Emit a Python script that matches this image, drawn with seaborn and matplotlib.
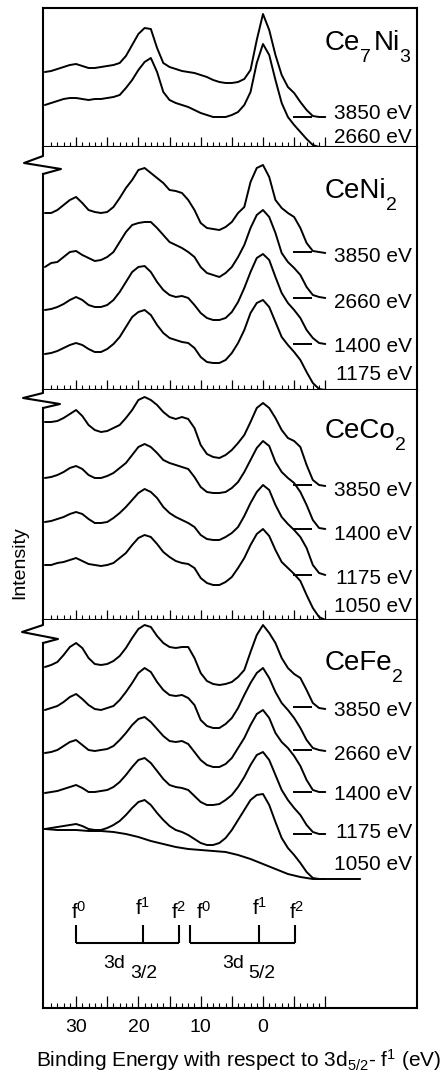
import matplotlib
matplotlib.use("Agg")
import seaborn as sns
from matplotlib import pyplot as plt
from matplotlib import transforms
from matplotlib.lines import Line2D

sns.set_style("ticks")
plt.rcParams["font.family"] = ["Liberation Sans", "DejaVu Sans"]
plt.rcParams["mathtext.fontset"] = "custom"
plt.rcParams["mathtext.rm"] = "Liberation Sans"
plt.rcParams["mathtext.it"] = "Liberation Sans"
plt.rcParams["mathtext.bf"] = "Liberation Sans:bold"
plt.rcParams["text.color"] = "black"
plt.rcParams["xtick.color"] = "black"
plt.rcParams["axes.labelcolor"] = "black"

# binding energy (eV) relative to 3d5/2 - f1, shared by every spectrum
energy = [35, 34, 33, 32, 31, 30, 29, 28, 27, 26, 25, 24, 23, 22, 21, 20,
          19, 18, 17, 16, 15, 14, 13, 12, 11, 10, 9, 8, 7, 6, 5, 4, 3, 2, 1,
          0, -1, -2, -3, -4, -5, -6, -7, -8, -9, -10]

# intensities (arb. units, offset per spectrum)
ce7ni3_3850 = [75, 76, 78, 80, 82, 83, 81, 79, 79, 80, 81,
               82, 84, 91, 102, 113, 119, 118, 99, 84, 80,
               78, 76, 75, 74, 72, 70, 67, 65, 64, 64,
               65, 68, 77, 107, 133, 117, 92, 72, 60, 54,
               45, 37, 31, 30, 30]
ce7ni3_2660 = [42, 44, 46, 48, 49, 49, 48, 47, 48, 48, 49,
               50, 52, 59, 67, 77, 85, 89, 75, 55, 47,
               44, 42, 40, 37, 34, 32, 30, 30, 30, 32,
               35, 42, 55, 84, 103, 92, 67, 44, 30, 22,
               15, 8, 2, 0, 0]

ceni2_3850 = [177, 177, 180, 185, 190, 193, 187, 180, 178, 177, 178,
              183, 192, 202, 210, 220, 222, 217, 212, 207, 200,
              199, 197, 190, 180, 167, 162, 161, 160, 163, 168,
              177, 183, 208, 222, 225, 213, 190, 182, 177, 173,
              162, 147, 139, 138, 137]
ceni2_2660 = [123, 127, 128, 133, 138, 139, 135, 132, 129, 130, 133,
              138, 148, 158, 165, 167, 168, 168, 162, 155, 148,
              145, 142, 138, 133, 123, 117, 115, 113, 117, 123,
              133, 145, 162, 175, 180, 173, 157, 137, 128, 122,
              115, 103, 95, 93, 92]
ceni2_1400 = [80, 81, 83, 86, 90, 93, 90, 85, 83, 83, 85,
              90, 98, 108, 118, 123, 124, 118, 108, 100, 95,
              93, 94, 92, 85, 77, 72, 70, 70, 72, 78,
              88, 102, 118, 132, 136, 130, 113, 97, 87, 80,
              72, 60, 52, 47, 46]
ceni2_1175 = [36, 37, 39, 42, 45, 47, 45, 41, 38, 38, 41,
              46, 53, 63, 73, 78, 80, 75, 65, 57, 52,
              50, 48, 47, 42, 33, 28, 27, 27, 30, 37,
              47, 60, 77, 87, 90, 83, 68, 53, 45, 38,
              30, 18, 7, 1, 0]

ceco2_3850 = [198, 198, 199, 202, 206, 210, 204, 195, 190, 188, 189,
              192, 195, 202, 210, 220, 223, 220, 215, 208, 203,
              201, 203, 201, 192, 175, 166, 163, 162, 165, 170,
              177, 185, 198, 212, 217, 212, 202, 190, 182, 179,
              173, 155, 140, 135, 134]
ceco2_1400 = [142, 143, 145, 148, 152, 154, 151, 145, 142, 142, 144,
              147, 152, 157, 165, 173, 176, 173, 167, 160, 157,
              155, 153, 151, 143, 133, 128, 127, 127, 128, 132,
              138, 148, 160, 172, 179, 174, 158, 148, 142, 137,
              128, 115, 100, 92, 91]
ceco2_1175 = [98, 99, 101, 103, 106, 108, 106, 101, 97, 97, 98,
              102, 107, 113, 120, 127, 131, 128, 122, 113, 107,
              103, 100, 97, 93, 85, 81, 80, 80, 83, 87,
              93, 104, 117, 128, 135, 130, 115, 103, 96, 90,
              83, 72, 55, 47, 45]
ceco2_1050 = [55, 55, 57, 58, 60, 62, 59, 56, 55, 54, 55,
              57, 62, 67, 75, 82, 85, 83, 76, 68, 63,
              59, 57, 56, 52, 42, 37, 35, 35, 38, 43,
              52, 62, 75, 86, 91, 84, 70, 58, 52, 46,
              39, 25, 12, 3, 0]

cefe2_3850 = [341, 343, 346, 353, 361, 365, 360, 350, 344, 343, 344,
              347, 352, 360, 370, 379, 383, 381, 372, 365, 361,
              360, 361, 361, 350, 335, 327, 324, 323, 324, 326,
              331, 338, 356, 373, 383, 375, 365, 350, 340, 334,
              330, 318, 305, 300, 299]
cefe2_2660 = [298, 300, 302, 306, 311, 314, 309, 303, 299, 298, 300,
              302, 308, 316, 325, 335, 340, 336, 326, 318, 313,
              312, 313, 310, 303, 288, 282, 280, 280, 284, 290,
              300, 313, 325, 335, 340, 330, 316, 305, 298, 290,
              280, 268, 260, 258, 257]
cefe2_1400 = [255, 256, 258, 262, 266, 268, 263, 258, 257, 258, 259,
              262, 268, 275, 283, 289, 291, 286, 279, 272, 267,
              266, 267, 264, 256, 248, 243, 241, 241, 244, 250,
              260, 270, 283, 294, 298, 290, 275, 266, 260, 252,
              242, 228, 218, 216, 216]
cefe2_1175 = [215, 216, 217, 219, 221, 223, 220, 216, 216, 217, 218,
              221, 226, 233, 241, 248, 250, 245, 237, 229, 223,
              221, 220, 218, 212, 206, 203, 203, 204, 208, 213,
              221, 231, 243, 253, 256, 248, 233, 218, 208, 200,
              193, 183, 176, 174, 174]
cefe2_1050 = [179, 180, 181, 182, 183, 184, 182, 179, 178, 178, 180,
              183, 187, 193, 200, 206, 208, 203, 195, 188, 182,
              178, 176, 173, 169, 165, 163, 163, 165, 170, 178,
              188, 198, 208, 213, 214, 203, 186, 170, 160, 153,
              145, 136, 130, 129, 129]

# smooth background under the 1050 eV CeFe2 spectrum
bg_energy = [35, 33, 30, 28, 26, 24, 22, 20, 18, 16, 14, 12, 10, 8, 6, 4,
             2, 0, -2, -4, -6, -8, -15.6]
bg_1050 = [179, 178, 178, 177, 177, 176, 174, 171, 167, 164, 161, 159, 158,
           157, 156, 153, 149, 144, 139, 134, 131, 129, 129]

# baseline markers of each spectrum (same units)
ce7ni3_base = [30]
ceni2_base = [138, 92, 46]
ceco2_base = [135, 91, 45]
cefe2_base = [301, 258, 216, 174]

# multiplet positions f0, f1, f2
f_32 = [30.0, 19.3, 13.5]
f_52 = [11.7, 0.7, -5.1]

photon_labels = {
    "ce7ni3": ["3850 eV", "2660 eV"],
    "ceni2": ["3850 eV", "2660 eV", "1400 eV", "1175 eV"],
    "ceco2": ["3850 eV", "1400 eV", "1175 eV", "1050 eV"],
    "cefe2": ["3850 eV", "2660 eV", "1400 eV", "1175 eV", "1050 eV"],
}

W, H = 446, 1082
fig = plt.figure(figsize=(W / 100, H / 100), dpi=100)
px = transforms.Affine2D().scale(1 / W, -1 / H).translate(0, 1) + fig.transFigure

X_LEFT, X_RIGHT = 43, 417
XLIM = (35.31, -24.72)

panels = [
    dict(key="ce7ni3", name=[("Ce", 0), ("7", 1), ("Ni", 0), ("3", 1)],
         top=8, bottom=147,
         curves=[ce7ni3_3850, ce7ni3_2660], base=ce7ni3_base,
         label_y=[34, 10], name_y=97),
    dict(key="ceni2", name=[("CeNi", 0), ("2", 1)], top=147, bottom=390,
         curves=[ceni2_3850, ceni2_2660, ceni2_1400, ceni2_1175], base=ceni2_base,
         label_y=[133, 87, 43, 15], name_y=192),
    dict(key="ceco2", name=[("CeCo", 0), ("2", 1)], top=390, bottom=620,
         curves=[ceco2_3850, ceco2_1400, ceco2_1175, ceco2_1050], base=ceco2_base,
         label_y=[130, 85, 42, 13], name_y=182),
    dict(key="cefe2", name=[("CeFe", 0), ("2", 1)], top=620, bottom=1008,
         curves=[cefe2_3850, cefe2_2660, cefe2_1400, cefe2_1175, cefe2_1050],
         base=cefe2_base, label_y=[298, 253, 213, 175, 143], name_y=338),
]

# axis break glyphs on the left edge (pixel coords)
breaks = [
    [(43, 147), (43, 156), (24, 163), (61, 169), (43, 174)],
    [(43, 390), (43, 393), (23, 398), (60, 404), (43, 408)],
    [(43, 620), (43, 625), (22, 632), (58, 639), (43, 643)],
]

major = [30, 25, 20, 15, 10, 5, 0, -5, -10]
minor = [e for e in range(35, -10, -1) if e % 5]


def chem_label(ax, x, y, parts):
    # main text and big, low subscripts chained one after another
    prev = ax.text(x, y, parts[0][0], fontsize=20, ha="left", va="baseline")
    for txt, sub in parts[1:]:
        if sub:
            dx, dy, fs = -0.5, -7.5, 14
        else:
            dx, dy, fs = 2.5, 7.5, 20
        prev = ax.annotate(txt, xy=(1, 0), xycoords=prev, xytext=(dx, dy),
                           textcoords="offset points", fontsize=fs,
                           ha="left", va="bottom")
    return prev


axes = []
for i, p in enumerate(panels):
    h = p["bottom"] - p["top"]
    ax = fig.add_axes([X_LEFT / W, 1 - p["bottom"] / H,
                       (X_RIGHT - X_LEFT) / W, h / H])
    axes.append(ax)
    for y in p["curves"]:
        sns.lineplot(x=energy, y=y, ax=ax, color="black", linewidth=1.4,
                     estimator=None, sort=False)
    ax.hlines(p["base"], -4.8, -7.9, color="black", linewidth=1.4)
    ax.set_xlim(*XLIM)
    ax.set_ylim(0, h)
    ax.set_xlabel("")
    ax.set_ylabel("")
    ax.set_yticks([])
    ax.set_xticks(major)
    ax.set_xticks(minor, minor=True)
    ax.tick_params(axis="x", which="both", direction="in", top=False,
                   bottom=True, color="black", labelbottom=False)
    ax.tick_params(axis="x", which="major", length=7.5, width=0.9)
    ax.tick_params(axis="x", which="minor", length=3.6, width=0.8)
    for s in ax.spines.values():
        s.set_linewidth(1.5)
        s.set_color("black")
    if i > 0:
        ax.spines["top"].set_visible(False)
        br = breaks[i - 1]
        ax.spines["left"].set_bounds(0, p["bottom"] - br[-1][1])
        fig.add_artist(Line2D([q[0] for q in br], [q[1] for q in br],
                              transform=px, color="black", linewidth=1.5))

    chem_label(ax, -9.95, p["name_y"], p["name"])
    for lab, ly in zip(photon_labels[p["key"]], p["label_y"]):
        ax.text(-23.9, ly, lab, fontsize=15, ha="right", va="center")

ax = axes[-1]
sns.lineplot(x=bg_energy, y=bg_1050, ax=ax, color="black", linewidth=1.4,
             estimator=None, sort=False)
ax.set_xticklabels(["30", "", "20", "", "10", "", "0", "", ""])
ax.tick_params(axis="x", which="major", labelbottom=True, labelsize=14,
               pad=8, length=8.5)

# multiplet brackets
for pos in (f_32, f_52):
    ax.hlines(65, pos[0], pos[-1], color="black", linewidth=1.5)
    ax.vlines(pos, 65, 83, color="black", linewidth=1.5)

f_text = [(29.6, 89, "0"), (19.3, 93, "1"), (13.6, 89, "2"),
          (9.5, 89, "0"), (0.6, 93, "1"), (-5.4, 89, "2")]
for x, y, s in f_text:
    ax.text(x, y, r"f$^{%s}$" % s, fontsize=15, ha="center", va="baseline")

ax.text(25.7, 40, "3d", fontsize=14, ha="left", va="baseline")
ax.text(21.3, 30, "3/2", fontsize=14, ha="left", va="baseline")
ax.text(6.6, 40, "3d", fontsize=14, ha="left", va="baseline")
ax.text(2.4, 30, "5/2", fontsize=14, ha="left", va="baseline")

fig.text(20, 563, "Intensity", transform=px, fontsize=14, rotation=90,
         ha="center", va="center")
fig.text(239, 1067, r"Binding Energy with respect to 3d$_{5/2}$- f$^{1}$ (eV)",
         transform=px, fontsize=15, ha="center", va="baseline")

fig.savefig("out.png", dpi=100)
